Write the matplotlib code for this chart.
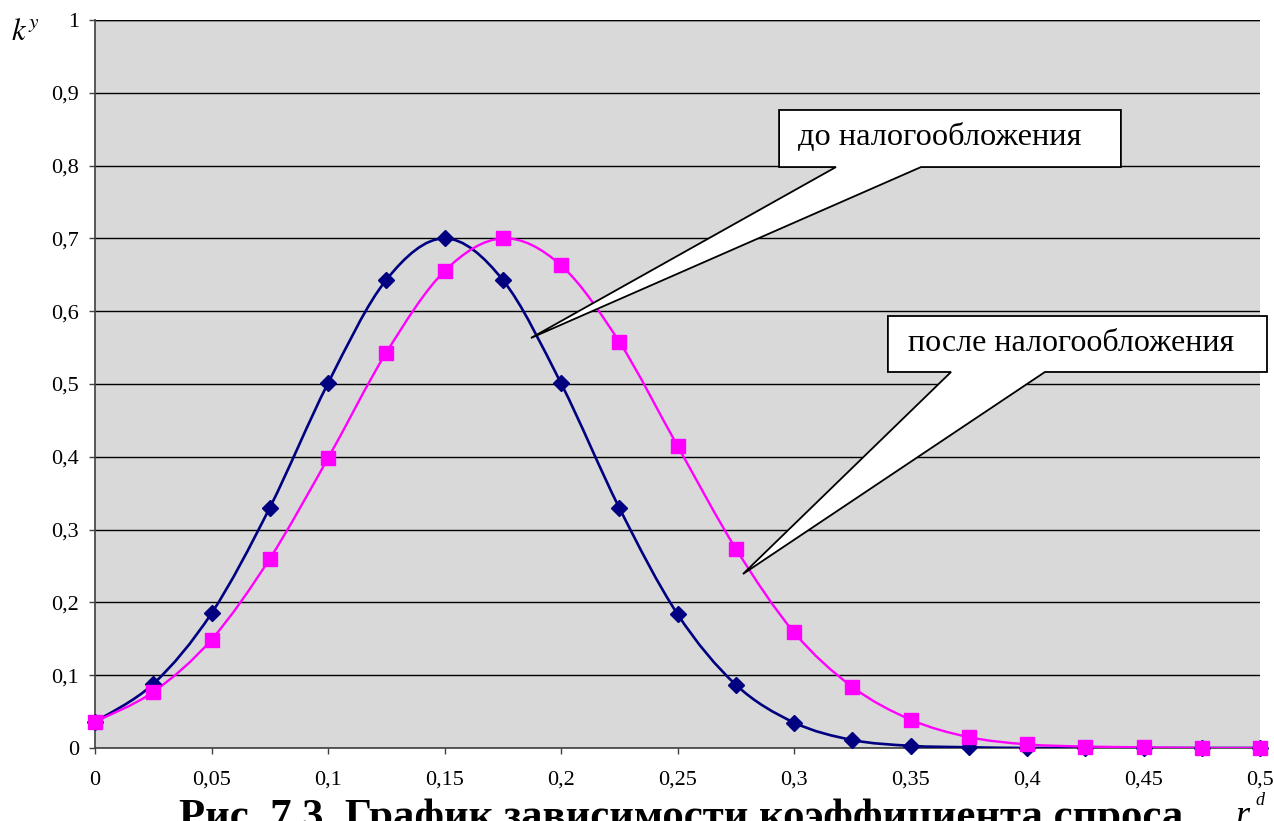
import matplotlib
matplotlib.use('Agg')
import matplotlib.pyplot as plt
from matplotlib.path import Path
from matplotlib.patches import PathPatch, Polygon

# data
r_d = [0, 0.025, 0.05, 0.075, 0.1, 0.125, 0.15, 0.175, 0.2, 0.225, 0.25,
       0.275, 0.3, 0.325, 0.35, 0.375, 0.4, 0.425, 0.45, 0.475, 0.5]
k_before = [0.036, 0.088, 0.185, 0.330, 0.501, 0.643, 0.700, 0.643, 0.501, 0.330, 0.184,
            0.087, 0.035, 0.011, 0.003, 0.001, 0.0, 0.0, 0.0, 0.0, 0.0]
k_after = [0.036, 0.077, 0.149, 0.260, 0.398, 0.543, 0.655, 0.700, 0.663, 0.558, 0.415,
           0.274, 0.159, 0.084, 0.039, 0.015, 0.005, 0.002, 0.001, 0.0, 0.0]

x_ticks = [0, 0.05, 0.1, 0.15, 0.2, 0.25, 0.3, 0.35, 0.4, 0.45, 0.5]
x_labels = ['0', '0,05', '0,1', '0,15', '0,2', '0,25', '0,3', '0,35', '0,4', '0,45', '0,5']
y_ticks = [0, 0.1, 0.2, 0.3, 0.4, 0.5, 0.6, 0.7, 0.8, 0.9, 1]
y_labels = ['0', '0,1', '0,2', '0,3', '0,4', '0,5', '0,6', '0,7', '0,8', '0,9', '1']

note_before = 'до налогообложения'
note_after = 'после налогообложения'
caption = 'Рис. 7.3. График зависимости коэффициента спроса'

plt.rcParams['font.family'] = ['Liberation Serif', 'DejaVu Serif']
plt.rcParams['mathtext.fontset'] = 'stix'

W, H = 1274, 821


# smoothed line like Excel: bezier segments through the points
def smooth_path(xs, ys):
    pts = list(zip(xs, ys))
    n = len(pts)
    verts = [pts[0]]
    codes = [Path.MOVETO]
    for i in range(n - 1):
        p0 = pts[i - 1] if i > 0 else pts[i]
        p1 = pts[i]
        p2 = pts[i + 1]
        p3 = pts[i + 2] if i + 2 < n else pts[i + 1]
        c1 = (p1[0] + (p2[0] - p0[0]) / 6, p1[1] + (p2[1] - p0[1]) / 6)
        c2 = (p2[0] - (p3[0] - p1[0]) / 6, p2[1] - (p3[1] - p1[1]) / 6)
        verts += [c1, c2, p2]
        codes += [Path.CURVE4] * 3
    return Path(verts, codes)


def callout(ax, box, base, tip, text, tx, ty, size):
    x0, x1, y0, y1 = box
    b1, b2 = base
    shape = [(x0, y1), (x1, y1), (x1, y0), (b2, y0), tip, (b1, y0), (x0, y0)]
    ax.add_patch(Polygon(shape, closed=True, facecolor='white', edgecolor='black',
                         linewidth=1.3, clip_on=False, zorder=6))
    ax.text(tx, ty, text, fontsize=size, ha='center', va='center', zorder=7)


fig = plt.figure(figsize=(W / 100, H / 100), dpi=100)
ax = fig.add_axes([95 / W, 1 - 748 / H, 1165 / W, 728 / H])
ax.set_facecolor('#d9d9d9')

ax.add_patch(PathPatch(smooth_path(r_d, k_before), facecolor='none', edgecolor='#000080',
                       linewidth=1.9, zorder=3))
ax.add_patch(PathPatch(smooth_path(r_d, k_after), facecolor='none', edgecolor='#ff00ff',
                       linewidth=1.7, zorder=3))
ax.plot(r_d, k_before, linestyle='none', marker='D', markersize=8.5, color='#000080',
        clip_on=False, zorder=4)
ax.plot(r_d, k_after, linestyle='none', marker='s', markersize=10.5, color='#ff00ff',
        clip_on=False, zorder=5)

ax.set_xlim(0, 0.5)
ax.set_ylim(0, 1)
ax.set_xticks(x_ticks)
ax.set_xticklabels(x_labels)
ax.set_yticks(y_ticks)
ax.set_yticklabels(y_labels)
ax.tick_params(axis='both', direction='out', length=4.5, width=1, color='#404040', labelsize=16)
ax.tick_params(axis='x', pad=12)
ax.tick_params(axis='y', pad=7)

ax.yaxis.grid(True, color='black', linewidth=1)
ax.set_axisbelow(True)
for s in ['top', 'right']:
    ax.spines[s].set_visible(False)
for s in ['left', 'bottom']:
    ax.spines[s].set_color('#404040')
    ax.spines[s].set_linewidth(1.2)
ax.axhline(1, color='black', linewidth=1, zorder=1)

callout(ax, (0.2936, 0.4403, 0.798, 0.8764), (0.318, 0.3545), (0.1871, 0.5632),
        note_before, 0.3627, 0.838, 23.3)
callout(ax, (0.3403, 0.503, 0.5165, 0.5934), (0.3674, 0.4077), (0.2781, 0.239),
        note_after, 0.4191, 0.555, 23)

fig.text(25 / W, 1 - 32 / H, r'$k^{y}$', fontsize=22, ha='center', va='center')
fig.text(1243 / W, 1 - 825 / H, 'r', fontsize=26, style='italic', ha='center', va='baseline')
fig.text(1260 / W, 1 - 805 / H, 'd', fontsize=13, style='italic', ha='center', va='baseline')
fig.text(681 / W, 1 - 828 / H, caption, fontsize=30.8, weight='bold', ha='center', va='baseline')

fig.savefig('out.png', dpi=100)
